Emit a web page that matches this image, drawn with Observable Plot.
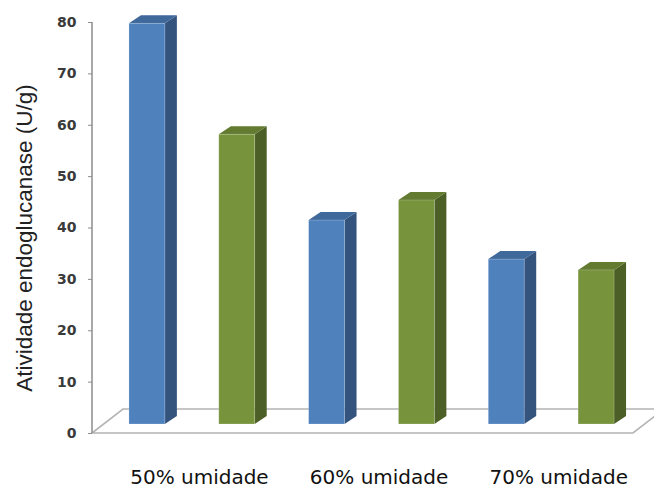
<!DOCTYPE html>
<html>
<head>
<meta charset="utf-8">
<script src="https://cdn.jsdelivr.net/npm/d3@7"></script>
<script src="https://cdn.jsdelivr.net/npm/@observablehq/plot@0.6"></script>
<style>
  html, body { margin: 0; padding: 0; background: #fff; }
</style>
</head>
<body>
<div id="chart"></div>
<script>
// Endoglucanase activity by moisture level, two series per group
const groups = ["50% umidade", "60% umidade", "70% umidade"];
const series = ["Série 1", "Série 2"];
const serie1 = [78, 39.7, 32.1];
const serie2 = [56.4, 43.6, 30];
const yTicks = [0, 10, 20, 30, 40, 50, 60, 70, 80];
const yTitle = "Atividade endoglucanase (U/g)";

const frontColors = ["#4F81BD", "#77933C"];
const sideColors = ["#35547D", "#4C5F26"];
const topColors = ["#3F689B", "#627B31"];

const keyOf = (g, s) => g + " · " + s;
const bars = groups.flatMap((g, i) => [
  {group: g, serie: series[0], key: keyOf(g, series[0]), value: serie1[i]},
  {group: g, serie: series[1], key: keyOf(g, series[1]), value: serie2[i]}
]);

// pseudo-3D projection offsets (screen pixels)
const lift = -9;              // bars stand a little behind the floor's front edge
const barDepth = [12, -8];    // extrusion of each column
const floorDepth = [31, -24]; // extrusion of the floor

const bandwidthOf = (s) => typeof s.bandwidth === "function" ? s.bandwidth() : s.bandwidth;

// value axis line and the floor parallelogram under the columns
const floor = Plot.ruleY([0], {
  render(index, scales, values, dims) {
    const y0 = scales.y(0);
    const yTop = scales.y(d3.max(yTicks));
    const x0 = dims.marginLeft, x1 = dims.width - dims.marginRight;
    const [fx, fy] = floorDepth;
    const g = d3.create("svg:g");
    g.append("path")
      .attr("d", `M${x0},${y0}L${x1},${y0}L${x1 + fx},${y0 + fy}L${x0 + fx},${y0 + fy}Z`)
      .attr("fill", "#fff")
      .attr("stroke", "#b4b4b4")
      .attr("stroke-width", 1.6);
    g.append("path")
      .attr("d", `M${x0},${yTop}L${x0},${y0}`)
      .attr("stroke", "#8c8c8c")
      .attr("stroke-width", 1.5);
    return g.node();
  }
});

// side and top faces of each column
const faces = Plot.barY(bars, {
  x: "key",
  y: "value",
  render(index, scales) {
    const g = d3.create("svg:g");
    const bw = bandwidthOf(scales.x);
    const [ddx, ddy] = barDepth;
    for (const i of index) {
      const d = bars[i];
      const s = series.indexOf(d.serie);
      const xl = scales.x(d.key), xr = xl + bw;
      const yb = scales.y(0) + lift, yt = scales.y(d.value) + lift;
      g.append("path")
        .attr("d", `M${xr},${yb}L${xr + ddx},${yb + ddy}L${xr + ddx},${yt + ddy}L${xr},${yt}Z`)
        .attr("fill", sideColors[s]);
      g.append("path")
        .attr("d", `M${xl},${yt}L${xr},${yt}L${xr + ddx},${yt + ddy}L${xl + ddx},${yt + ddy}Z`)
        .attr("fill", topColors[s]);
    }
    return g.node();
  }
});

const chart = Plot.plot({
  width: 654,
  height: 488,
  marginLeft: 92,
  marginRight: 21,
  marginTop: 22,
  marginBottom: 55,
  style: {background: "#fff", fontFamily: "DejaVu Sans, sans-serif"},
  x: {type: "band", domain: bars.map(d => d.key), range: [102, 641], paddingInner: 0.6, paddingOuter: 0.3, round: false, axis: null},
  y: {domain: [0, 80], axis: null},
  color: {domain: series, range: frontColors},
  marks: [
    floor,
    Plot.axisY(yTicks, {
      tickSize: 4, tickPadding: 12,
      stroke: "#8c8c8c", fill: "#3a3a3a",
      fontSize: 14, fontWeight: "bold", fontFamily: "DejaVu Sans",
      label: null
    }),
    faces,
    Plot.barY(bars, {x: "key", y: "value", fill: "serie", dy: lift, stroke: "#ffffff", strokeOpacity: 0.25, strokeWidth: 0.8}),
    Plot.text(groups, {
      x: g => keyOf(g, series[0]), y: () => 0,
      text: d => d, dx: 52, dy: 44,
      fontSize: 20, fontFamily: "DejaVu Sans", fill: "#111", lineAnchor: "middle"
    }),
    Plot.text([yTitle], {
      frameAnchor: "left", textAnchor: "middle", rotate: -90, dx: -68, dy: 10,
      fontSize: 22.5, fontFamily: "Liberation Sans", fill: "#222"
    })
  ]
});

document.getElementById("chart").appendChild(chart);
</script>
</body>
</html>
